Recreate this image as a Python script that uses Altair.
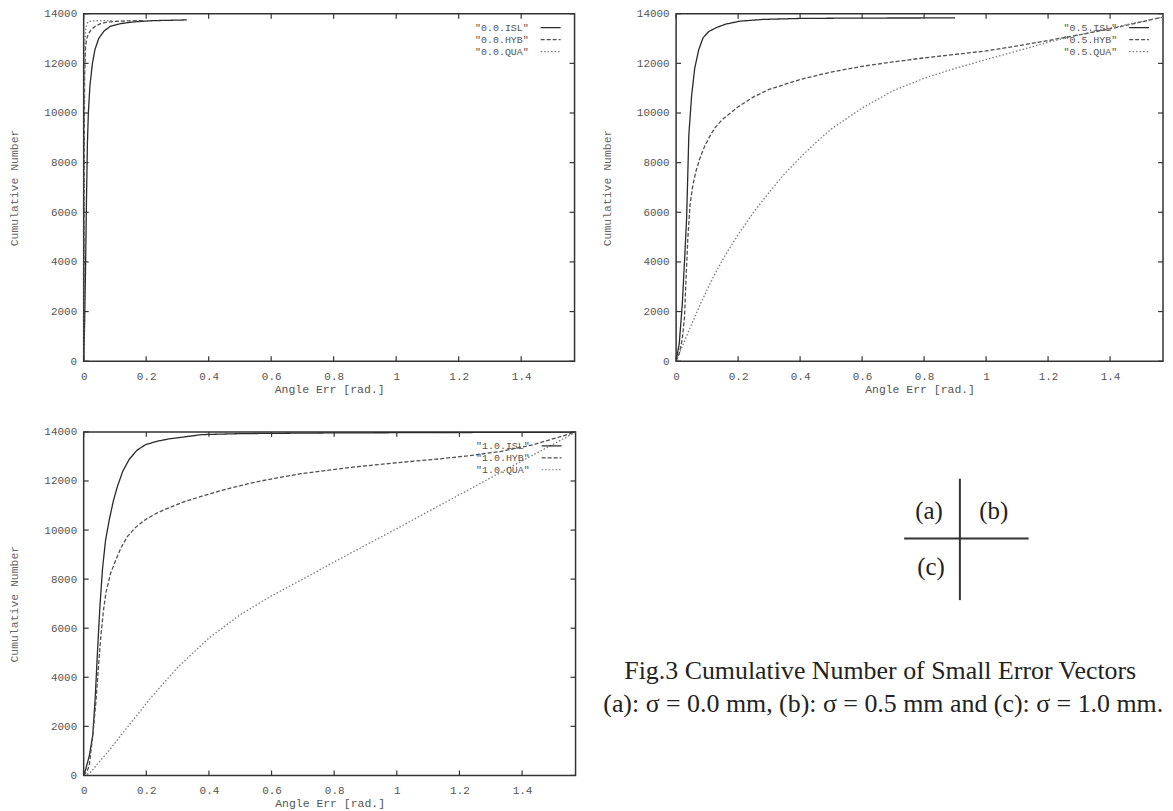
import math
import altair as alt
import pandas as pd

HALF_PI = math.pi / 2

# ---------------- data ----------------
x_ticks = [0, 0.2, 0.4, 0.6, 0.8, 1.0, 1.2, 1.4]
y_ticks = [0, 2000, 4000, 6000, 8000, 10000, 12000, 14000]
series_names = ["ISL", "HYB", "QUA"]
sigma_labels = ["0.0", "0.5", "1.0"]

# (a) sigma = 0.0 mm
a_isl_x = [0, 0.003, 0.006, 0.009, 0.012, 0.015, 0.02, 0.028, 0.036, 0.048, 0.065, 0.086, 0.118, 0.16, 0.22, 0.33]
a_isl_y = [0, 1500, 3800, 6500, 8800, 10000, 11100, 12000, 12550, 13000, 13300, 13500, 13600, 13670, 13720, 13750]
a_hyb_x = [0, 0.0015, 0.003, 0.006, 0.01, 0.015, 0.022, 0.03, 0.04, 0.054, 0.07, 0.1, 0.14, 0.19]
a_hyb_y = [0, 7000, 11500, 12700, 13000, 13180, 13320, 13420, 13520, 13600, 13650, 13690, 13710, 13720]
a_qua_x = [0, 0.001, 0.002, 0.004, 0.007, 0.01, 0.015, 0.025, 0.05, 0.09]
a_qua_y = [0, 6000, 11000, 12900, 13400, 13600, 13680, 13710, 13720, 13725]

# (b) sigma = 0.5 mm
b_isl_x = [0, 0.01, 0.02, 0.027, 0.034, 0.041, 0.05, 0.06, 0.073, 0.087, 0.105, 0.13, 0.16, 0.206, 0.28, 0.4, 0.6, 0.9]
b_isl_y = [0, 700, 2300, 4000, 5800, 9100, 10700, 11800, 12550, 13030, 13280, 13440, 13580, 13700, 13770, 13810, 13825, 13830]
b_hyb_x = [0, 0.01, 0.02, 0.027, 0.033, 0.038, 0.045, 0.054, 0.065, 0.076, 0.09, 0.108, 0.125, 0.15, 0.2, 0.25, 0.3, 0.4, 0.5, 0.6, 0.7, 0.8, 0.9, 1.0, 1.1, 1.2, 1.31, 1.42, 1.5708]
b_hyb_y = [0, 300, 900, 1770, 3600, 5000, 6300, 7100, 7700, 8150, 8600, 9050, 9400, 9750, 10250, 10650, 10950, 11350, 11650, 11880, 12060, 12220, 12360, 12500, 12700, 12920, 13171, 13440, 13867]
b_qua_x = [0, 0.04, 0.08, 0.12, 0.16, 0.2, 0.25, 0.3, 0.35, 0.4, 0.45, 0.5, 0.6, 0.7, 0.8, 0.9, 1.0, 1.1, 1.2, 1.3, 1.4, 1.5708]
b_qua_y = [0, 1200, 2350, 3400, 4300, 5100, 6000, 6800, 7550, 8200, 8800, 9350, 10200, 10900, 11400, 11800, 12150, 12500, 12850, 13150, 13420, 13867]

# (c) sigma = 1.0 mm
c_isl_x = [0, 0.007, 0.018, 0.029, 0.037, 0.044, 0.052, 0.06, 0.07, 0.082, 0.095, 0.108, 0.125, 0.145, 0.17, 0.198, 0.235, 0.272, 0.378, 0.5, 0.8, 1.2, 1.5708]
c_isl_y = [0, 272, 800, 1627, 3200, 5015, 6900, 8400, 9600, 10433, 11200, 11788, 12400, 12873, 13250, 13483, 13620, 13715, 13890, 13930, 13960, 13975, 13990]
c_hyb_x = [0, 0.01, 0.018, 0.028, 0.039, 0.047, 0.055, 0.063, 0.071, 0.085, 0.103, 0.12, 0.14, 0.165, 0.198, 0.235, 0.272, 0.32, 0.378, 0.45, 0.537, 0.615, 0.695, 0.85, 1.013, 1.12, 1.224, 1.33, 1.436, 1.5708]
c_hyb_y = [0, 150, 406, 1500, 2983, 4400, 5690, 6700, 7440, 8200, 8794, 9300, 9743, 10100, 10433, 10700, 10908, 11150, 11382, 11650, 11924, 12120, 12300, 12550, 12760, 12880, 13020, 13200, 13480, 13990]
c_qua_x = [0, 0.02, 0.08, 0.145, 0.22, 0.3, 0.4, 0.5, 0.6, 0.7, 0.8, 0.9, 1.0, 1.1, 1.2, 1.3, 1.4, 1.5, 1.5708]
c_qua_y = [0, 100, 1000, 2050, 3250, 4400, 5600, 6550, 7320, 8000, 8700, 9380, 10060, 10750, 11440, 12130, 12820, 13500, 13990]

panel_keys = ["(a)", "(b)", "(c)"]
caption_lines = [
    "Fig.3 Cumulative Number of Small Error Vectors",
    "(a): \u03c3 = 0.0 mm, (b): \u03c3 = 0.5 mm and (c): \u03c3 = 1.0 mm.",
]

# ---------------- styles ----------------
MONO = "Liberation Mono"
SERIF = "Liberation Serif"
line_colors = ["#2a2a2a", "#505050", "#7a7a7a"]
line_dashes = [[1, 0], [4, 2], [1.5, 2]]
TICK_Y = 14000 * 5 / 349
TICK_X = HALF_PI * 5 / 493


def panel(xs_list, ys_list, sigma, w, h):
    rows = []
    for name, xs, ys in zip(series_names, xs_list, ys_list):
        for xv, yv in zip(xs, ys):
            rows.append({"x": xv, "y": yv, "series": name})
    df = pd.DataFrame(rows)

    xscale = alt.Scale(domain=[0, HALF_PI], nice=False, zero=False)
    yscale = alt.Scale(domain=[0, 14000], nice=False, zero=False)

    xaxis = alt.Axis(
        values=x_ticks, format=".1~f", title="Angle Err [rad.]",
        labelFont=MONO, labelFontSize=11, labelColor="#555", labelPadding=9,
        labelFlush=False, labelOverlap=False, ticks=False, tickSize=0,
        domain=False, grid=False,
        titleFont=MONO, titleFontSize=11.5, titleFontWeight="normal",
        titleColor="#555", titlePadding=2,
    )
    yaxis = alt.Axis(
        values=y_ticks, format="d", title="Cumulative Number",
        labelFont=MONO, labelFontSize=11, labelColor="#555", labelPadding=7,
        labelFlush=False, labelOverlap=False, ticks=False, tickSize=0,
        domain=False, grid=False,
        titleFont=MONO, titleFontSize=11.5, titleFontWeight="normal",
        titleColor="#666", titlePadding=24,
    )

    lines = alt.Chart(df).mark_line(strokeWidth=1.3, clip=True).encode(
        x=alt.X("x:Q", scale=xscale, axis=xaxis),
        y=alt.Y("y:Q", scale=yscale, axis=yaxis),
        color=alt.Color("series:N", scale=alt.Scale(domain=series_names, range=line_colors), legend=None),
        strokeDash=alt.StrokeDash("series:N", scale=alt.Scale(domain=series_names, range=line_dashes), legend=None),
    )

    xt = pd.DataFrame({"v": x_ticks})
    yt = pd.DataFrame({"v": y_ticks})
    tick_style = dict(color="#333", strokeWidth=1.2)
    xb = alt.Chart(xt).mark_rule(**tick_style).encode(
        x=alt.X("v:Q", scale=xscale, axis=xaxis),
        y=alt.YDatum(0, scale=yscale, axis=yaxis), y2=alt.Y2Datum(TICK_Y))
    xtop = alt.Chart(xt).mark_rule(**tick_style).encode(
        x=alt.X("v:Q", scale=xscale, axis=xaxis),
        y=alt.YDatum(14000, scale=yscale, axis=yaxis), y2=alt.Y2Datum(14000 - TICK_Y))
    yl = alt.Chart(yt).mark_rule(**tick_style).encode(
        y=alt.Y("v:Q", scale=yscale, axis=yaxis),
        x=alt.XDatum(0, scale=xscale, axis=xaxis), x2=alt.X2Datum(TICK_X))
    yr = alt.Chart(yt).mark_rule(**tick_style).encode(
        y=alt.Y("v:Q", scale=yscale, axis=yaxis),
        x=alt.XDatum(HALF_PI, scale=xscale, axis=xaxis), x2=alt.X2Datum(HALF_PI - TICK_X))

    legend_layers = []
    for i, name in enumerate(series_names):
        ly = 14 + 12 * i
        legend_layers.append(
            alt.Chart(pd.DataFrame({"t": [f'"{sigma}.{name}"']})).mark_text(
                align="right", baseline="middle", font=MONO, fontSize=10, color="#555"
            ).encode(x=alt.value(w - 46), y=alt.value(ly), text="t:N")
        )
        legend_layers.append(
            alt.Chart(pd.DataFrame({"s": [name]})).mark_rule(
                strokeWidth=1.2, color=line_colors[i], strokeDash=line_dashes[i]
            ).encode(x=alt.value(w - 34), x2=alt.value(w - 14), y=alt.value(ly))
        )

    return alt.layer(lines, xb, xtop, yl, yr, *legend_layers).properties(width=w, height=h)


pa = panel([a_isl_x, a_hyb_x, a_qua_x], [a_isl_y, a_hyb_y, a_qua_y], sigma_labels[0], 493, 349)
pb = panel([b_isl_x, b_hyb_x, b_qua_x], [b_isl_y, b_hyb_y, b_qua_y], sigma_labels[1], 489, 349)
pc = panel([c_isl_x, c_hyb_x, c_qua_x], [c_isl_y, c_hyb_y, c_qua_y], sigma_labels[2], 494, 345)

# ---------------- caption / key diagram (sits in the cell under panel (b)) ----------------
one = pd.DataFrame({"k": [0]})
cross_v = alt.Chart(one).mark_rule(color="#333", strokeWidth=2).encode(
    x=alt.value(285), y=alt.value(47), y2=alt.value(169))
cross_h = alt.Chart(one).mark_rule(color="#333", strokeWidth=2).encode(
    x=alt.value(229), x2=alt.value(354), y=alt.value(107))
key_pos = [(254, 87), (319, 87), (256, 144)]
key_layers = [
    alt.Chart(pd.DataFrame({"t": [k]})).mark_text(
        font=SERIF, fontSize=25, color="#222", align="center", baseline="alphabetic"
    ).encode(x=alt.value(px), y=alt.value(py), text="t:N")
    for k, (px, py) in zip(panel_keys, key_pos)
]
cap_pos = [(205, 248), (208, 281)]
cap_layers = [
    alt.Chart(pd.DataFrame({"t": [line]})).mark_text(
        font=SERIF, fontSize=26, color="#222", align="center", baseline="alphabetic"
    ).encode(x=alt.value(px), y=alt.value(py), text="t:N")
    for line, (px, py) in zip(caption_lines, cap_pos)
]
caption = alt.layer(cross_v, cross_h, *key_layers, *cap_layers).properties(
    width=489, height=345, view=alt.ViewBackground(strokeOpacity=0)
)

chart = alt.concat(
    pa, pb, pc, caption, columns=2, spacing={"row": 71, "column": 101}, bounds="flush"
).properties(
    padding={"top": -3, "left": 0, "right": 0, "bottom": 0}, background="white"
).configure_view(stroke="#333", strokeWidth=1.5)

chart.save("out.html", embed_options={"renderer": "svg", "actions": False})
